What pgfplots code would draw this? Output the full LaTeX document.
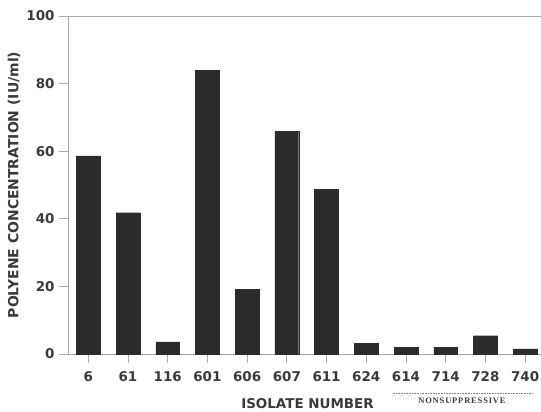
\documentclass[border=0pt]{standalone}
\usepackage{fontspec}
\setmainfont{DejaVu Sans}
\newfontfamily\serifb{Liberation Serif}[LetterSpace=10]
\usepackage{pgfplots}
\pgfplotsset{compat=1.18}
\definecolor{barc}{HTML}{2B2B2B}
\definecolor{axc}{HTML}{A8A8A8}
\definecolor{txt}{HTML}{3A3A3A}
\begin{document}
\begin{tikzpicture}
\begin{axis}[
  scale only axis, width=473bp, height=338bp,
  xmin=-0.51, xmax=11.4, ymin=0, ymax=100,
  ybar, bar width=0.6,
  ytick={0,20,40,60,80,100},
  xtick={0,1,2,3,4,5,6,7,8,9,10,11},
  xticklabels={6,61,116,601,606,607,611,624,614,714,728,740},
  axis x line*=bottom, axis y line*=left,
  axis line style={axc, line width=0.9bp, -},
  tick align=outside, major tick length=9bp,
  tick style={axc, line width=0.9bp},
  /pgf/number format/assume math mode=true,
  tick label style={font=\fontsize{13.5}{13.5}\selectfont\bfseries, text=txt},
  yticklabel style={xshift=-1bp},
  xticklabel style={yshift=-5bp},
  every axis y label/.style={at={(rel axis cs:0,0.5)}, xshift=-54bp, rotate=90, anchor=center, font=\fontsize{14}{14}\selectfont\bfseries, text=txt},
  every axis x label/.style={at={(rel axis cs:0.5,0)}, xshift=3bp, yshift=-49.5bp, anchor=center, font=\fontsize{13.5}{13.5}\selectfont\bfseries, text=txt},
  ylabel={POLYENE CONCENTRATION (IU/ml)},
  xlabel={ISOLATE NUMBER},
  clip=false,
]
\addplot[fill=barc, draw=barc, line width=0.4bp] coordinates {
  (0,58.6) (1,41.8) (2,3.6) (3,84.0) (4,19.1) (5,65.9)
  (6,48.7) (7,3.2) (8,2.0) (9,2.0) (10,5.4) (11,1.5)
};
\draw[axc, line width=0.9bp] (rel axis cs:0,1) -- (rel axis cs:1,1);
\draw[gray, line width=0.6bp, densely dotted] ([yshift=-39bp]axis cs:7.67,0) -- ([yshift=-39bp]axis cs:11.2,0);
\node[font=\serifb\fontsize{8.5}{8.5}\selectfont\bfseries, text=txt, inner sep=0pt] at ([yshift=-47bp]axis cs:9.41,0) {NONSUPPRESSIVE};
\end{axis}
\pgfresetboundingbox
\path[use as bounding box] ([shift={(-68bp,-58bp)}]current axis.south west) rectangle ([shift={(0bp,16bp)}]current axis.north east);
\end{tikzpicture}
\end{document}
